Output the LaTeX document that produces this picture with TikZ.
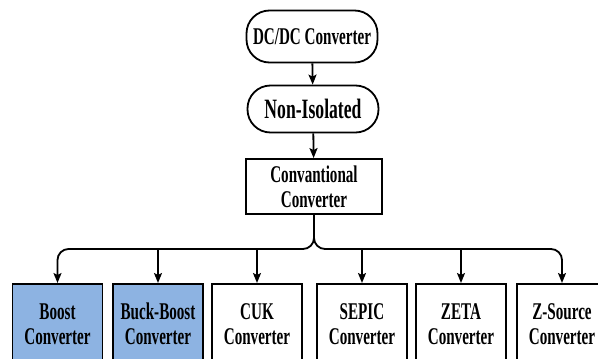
\documentclass[tikz,border=0pt]{standalone}
\usepackage{fontspec}
\setmainfont{Liberation Serif}[FakeStretch=0.63]
\usetikzlibrary{positioning,arrows.meta,calc}
\definecolor{convblue}{RGB}{141,179,226}

\tikzset{
  roundbox/.style={draw,line width=1.8pt,rounded corners=23pt,minimum width=131pt,
    font=\bfseries\fontsize{24}{25}\selectfont},
  typebox/.style={draw,line width=1.8pt,minimum width=90pt,minimum height=80pt,
    anchor=north,align=center,inner sep=0pt,font=\bfseries\fontsize{24}{25}\selectfont},
  link/.style={-{Stealth[length=10pt,width=8pt,inset=2pt]},line width=1.8pt}
}

\begin{document}
\begin{tikzpicture}[x=1pt,y=-1pt]
	\clip (0,0) rectangle (598,359);
	\coordinate (bus) at (0,249);
	% top of the tree
	\node[roundbox,minimum height=52pt] (dcdc) at (312,36.5) {DC/DC Converter};
	\node[roundbox,minimum height=47pt,font=\bfseries\fontsize{28}{29}\selectfont] (noniso) at (313,109) {Non-Isolated};
	\node[draw,line width=1.8pt,minimum width=136pt,minimum height=55pt,align=center,
	  font=\bfseries\fontsize{24}{25}\selectfont] (conv) at (314,186.5) {Convantional\\Converter};
	% converter types
	\node[typebox,fill=convblue] (boost) at (57.5,283) {Boost\\Converter};
	\node[typebox,fill=convblue] (buckboost) at (158,283) {Buck-Boost\\Converter};
	\node[typebox] (cuk) at (257,283) {CUK\\Converter};
	\node[typebox] (sepic) at (362,283) {SEPIC\\Converter};
	\node[typebox] (zeta) at (461,283) {ZETA\\Converter};
	\node[typebox] (zsource) at (562,283) {Z-Source\\Converter};
	% connectors
	\draw[link] (dcdc) -- (noniso);
	\draw[link] (noniso) -- (conv);
	\draw[link,rounded corners=11pt] (conv.south) -- (conv.south |- bus) -- (boost.north |- bus) -- (boost.north);
	\draw[link,rounded corners=11pt] (conv.south) -- (conv.south |- bus) -- (zsource.north |- bus) -- (zsource.north);
	\draw[link] (buckboost.north |- bus) -- (buckboost.north);
	\draw[link] (cuk.north |- bus) -- (cuk.north);
	\draw[link] (sepic.north |- bus) -- (sepic.north);
	\draw[link] (zeta.north |- bus) -- (zeta.north);
\end{tikzpicture}
\end{document}
